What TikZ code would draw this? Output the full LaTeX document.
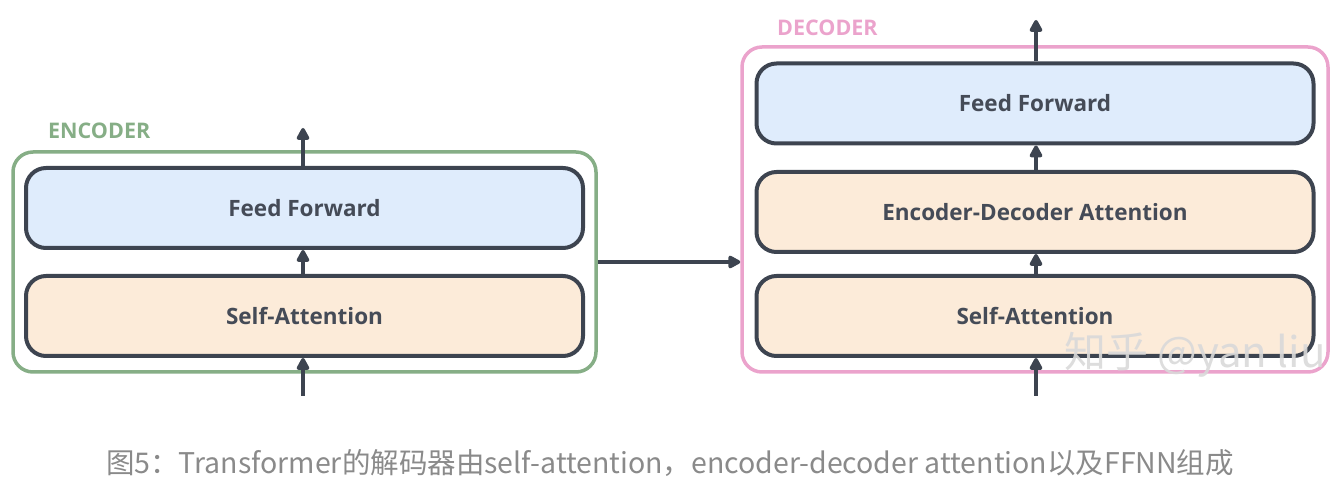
\documentclass[tikz,border=0pt]{standalone}
\usepackage{fontspec}
\setmainfont{Open Sans}
\newfontfamily\boxfont{Open Sans}
\newfontfamily\cjk{Noto Sans CJK SC}
\usetikzlibrary{arrows.meta,calc}
\definecolor{dark}{HTML}{3D4450}
\definecolor{boxtext}{HTML}{454B57}
\definecolor{ffblue}{HTML}{DFECFC}
\definecolor{attorange}{HTML}{FCEBD9}
\definecolor{encgreen}{HTML}{86AE86}
\definecolor{decpink}{HTML}{EBA3CC}
\definecolor{captgray}{HTML}{8A8A8A}
\tikzset{
  layer/.style={draw=dark, line width=4pt, rounded corners=20pt, minimum width=557pt, minimum height=80pt, inner sep=0pt, font=\boxfont\bfseries\fontsize{22.5}{27}\selectfont, text=boxtext},
  ffbox/.style={layer, fill=ffblue},
  attbox/.style={layer, fill=attorange},
  outerbox/.style={line width=3.5pt, rounded corners=20pt, inner sep=0pt},
  flow/.style={draw=dark, line width=3.5pt, -{Triangle[width=14pt,length=14pt,round]}},
  grouplabel/.style={font=\boxfont\bfseries\fontsize{21.5}{26}\selectfont, anchor=west, inner sep=0pt},
}
\begin{document}
\begin{tikzpicture}[x=1pt,y=-1pt]
\useasboundingbox (0,0) rectangle (1342,494);
% encoder
\node[outerbox, draw=encgreen, minimum width=583pt, minimum height=220pt] (enc) at (304.5,262) {};
\node[grouplabel, text=encgreen] (enclabel) at (48,131) {ENCODER};
\node[ffbox] (encff) at (304.5,208) {Feed Forward};
\node[attbox] (encsa) at (304.5,316) {Self-Attention};
\coordinate (encout) at (303,128);
\coordinate (encin) at (303,396);
% decoder
\node[outerbox, draw=decpink, minimum width=586pt, minimum height=325pt] (dec) at (1035,209.5) {};
\node[grouplabel, text=decpink] (declabel) at (777,28) {DECODER};
\node[ffbox] (decff) at (1035,103.5) {Feed Forward};
\node[attbox] (deced) at (1035,212) {Encoder-Decoder Attention};
\node[attbox] (decsa) at (1035,316) {Self-Attention};
\coordinate (decout) at (1036,20);
\coordinate (decin) at (1036,396);
% arrows
\draw[flow] (encin) -- (encin |- encsa.south);
\draw[flow] (encsa.north -| encin) -- (encff.south -| encin);
\draw[flow] (encff.north -| encout) -- (encout);
\draw[flow] (decin) -- (decin |- decsa.south);
\draw[flow] (decsa.north -| decin) -- (deced.south -| decin);
\draw[flow] (deced.north -| decin) -- (decff.south -| decin);
\draw[flow] (decff.north -| decout) -- (decout);
\draw[flow] (enc.east) -- (enc.east -| dec.west);
% watermark
\node[text=gray!30, opacity=0.9, font=\cjk\fontsize{42}{48}\selectfont, inner sep=0pt] (wm) at (1195,355) {知乎 @yan liu};
% caption
\node[text=captgray, font=\cjk\fontsize{28.5}{32}\selectfont, inner sep=0pt] (caption) at (670,463) {图5：Transformer的解码器由self-attention，encoder-decoder attention以及FFNN组成};
\end{tikzpicture}
\end{document}
